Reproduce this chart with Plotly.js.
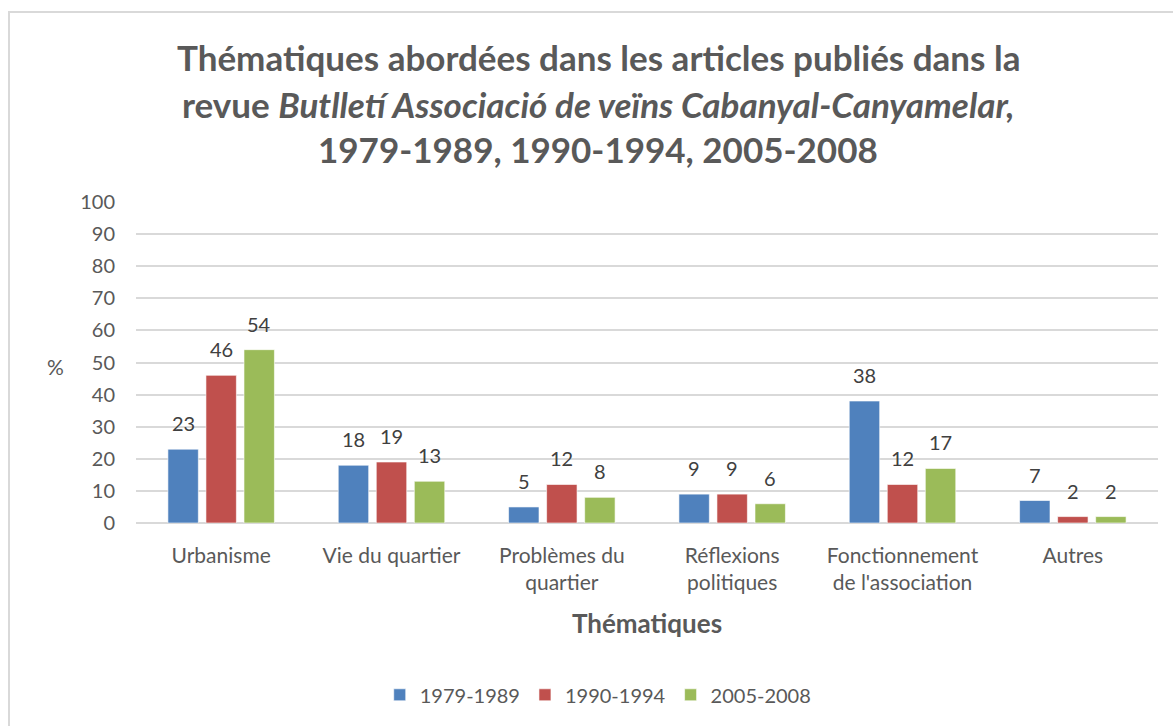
<!DOCTYPE html>
<html>
<head>
<meta charset="utf-8">
<script src="https://cdn.plot.ly/plotly-3.0.1.min.js"></script>
<style>
  html, body { margin: 0; padding: 0; background: #ffffff; overflow: hidden; }
  #frame { position: absolute; left: 8px; top: 11px; width: 1200px; height: 760px; border: 2px solid #D9D9D9; box-sizing: border-box; }
  #chart { position: absolute; left: 0; top: 0; width: 1173px; height: 726px; }
</style>
</head>
<body>
<div id="frame"></div>
<div id="chart"></div>
<script>
const categories = ["Urbanisme", "Vie du quartier", "Problèmes du<br>quartier", "Réflexions<br>politiques", "Fonctionnement<br>de l'association", "Autres"];
const seriesNames = ["1979-1989", "1990-1994", "2005-2008"];
const series1 = [23, 18, 5, 9, 38, 7];
const series2 = [46, 19, 12, 9, 12, 2];
const series3 = [54, 13, 8, 6, 17, 2];
const seriesColors = ["#4F81BD", "#C0504D", "#9BBB59"];
const yTicks = [0, 10, 20, 30, 40, 50, 60, 70, 80, 90, 100];

const FONT = "Lato, 'Open Sans', sans-serif";
const TXT = "#595959";

// plot area in pixels (for converting page positions to paper coords)
const PL = 136, PR = 1158, PT = 202, PB = 523;
const px = v => (v - PL) / (PR - PL);
const py = v => (PB - v) / (PB - PT);
const BARGAP = 0.33;
const slot = (PR - PL) / categories.length * (1 - BARGAP) / 3;

const allSeries = [series1, series2, series3];

const data = allSeries.map((vals, i) => ({
  type: "bar", name: seriesNames[i], x: categories, y: vals,
  marker: { color: seriesColors[i], line: { color: "rgba(255,255,255,0.6)", width: 1 } },
  hoverinfo: "x+y+name"
}));

// value labels placed above each bar, anchored to data coordinates
const labelAnnots = [];
allSeries.forEach((vals, i) => {
  vals.forEach((v, j) => {
    labelAnnots.push({
      text: String(v), xref: "x", yref: "y", x: categories[j], y: v,
      xshift: (i - 1) * slot, yshift: 12, xanchor: "center", yanchor: "bottom",
      showarrow: false, font: { family: FONT, size: 20, color: "#404040" }
    });
  });
});

const titleFont = { family: FONT, size: 35, color: TXT };

const layout = {
  width: 1173, height: 726,
  margin: { l: PL, r: 1173 - PR, t: PT, b: 726 - PB },
  paper_bgcolor: "rgba(0,0,0,0)", plot_bgcolor: "rgba(0,0,0,0)",
  font: { family: FONT, color: TXT, size: 18 },
  barmode: "group", bargap: BARGAP, bargroupgap: 0.2,
  showlegend: true,
  legend: { orientation: "h", xref: "container", x: 0.51, xanchor: "center", yref: "container", y: 0.043, yanchor: "middle",
            font: { family: FONT, size: 20, color: TXT }, traceorder: "normal" },
  xaxis: {
    type: "category", tickfont: { family: FONT, size: 21, color: TXT },
    showgrid: false, showline: false, ticks: "", ticklabelstandoff: 18,
    title: { text: "<b>Thématiques</b>", font: { family: FONT, size: 26, color: TXT }, standoff: 21 }
  },
  yaxis: {
    range: [0, 100], tickvals: yTicks, ticktext: yTicks.map(String),
    tickfont: { family: FONT, size: 20, color: TXT },
    showgrid: true, gridcolor: "#D9D9D9", gridwidth: 1.5, zeroline: true, zerolinecolor: "#D9D9D9", zerolinewidth: 1.5,
    showline: false, ticks: "", ticklabelstandoff: 20
  },
  annotations: [
    { text: "<b>Thématiques abordées dans les articles publiés dans la</b>", xref: "paper", yref: "paper", x: px(598), y: py(57), xanchor: "center", yanchor: "middle", showarrow: false, font: titleFont },
    { text: "<b>revue <i>Butlletí Associació de veïns Cabanyal-Canyamelar,</i></b>", xref: "paper", yref: "paper", x: px(598), y: py(104), xanchor: "center", yanchor: "middle", showarrow: false, font: titleFont },
    { text: "<b>1979-1989, 1990-1994, 2005-2008</b>", xref: "paper", yref: "paper", x: px(598), y: py(149), xanchor: "center", yanchor: "middle", showarrow: false, font: titleFont },
    { text: "%", xref: "paper", yref: "paper", x: px(55), y: py(366), xanchor: "center", yanchor: "middle", showarrow: false, font: { family: FONT, size: 21, color: TXT } }
  ].concat(labelAnnots)
};

Plotly.newPlot("chart", data, layout, { displayModeBar: false });
</script>
</body>
</html>
